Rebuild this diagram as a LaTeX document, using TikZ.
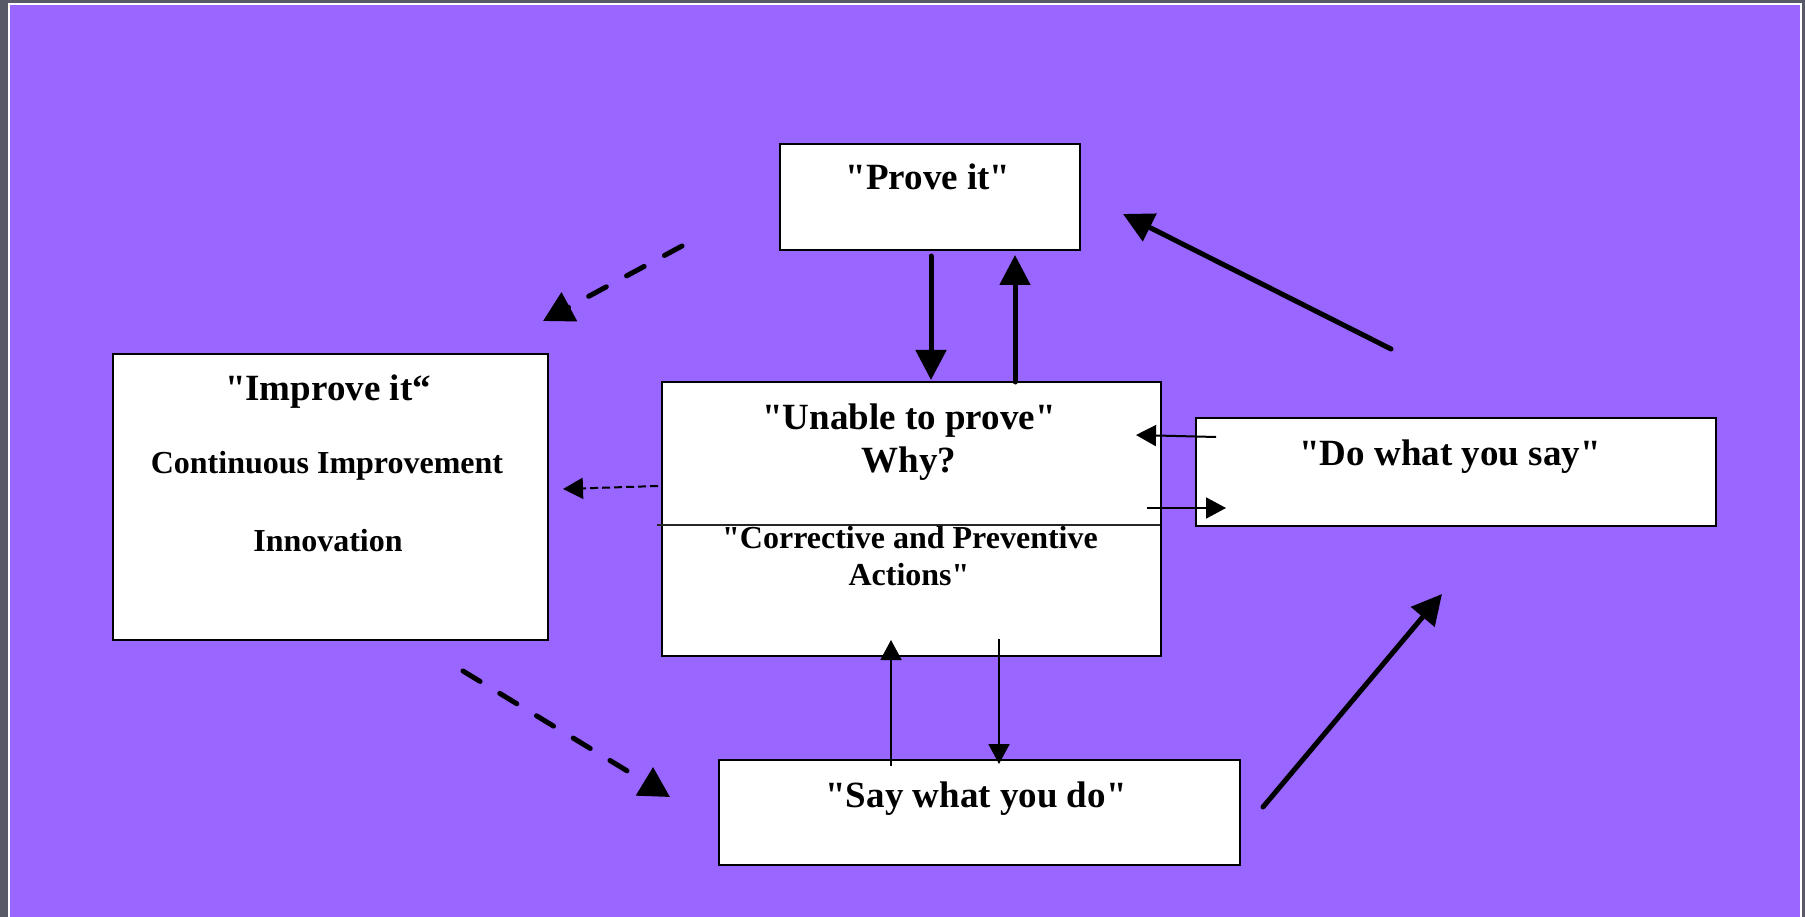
\documentclass[tikz,border=0pt]{standalone}
\usepackage{fontspec}
\setmainfont{Liberation Serif}[Ligatures=TeXOff]
\usetikzlibrary{arrows.meta}
\definecolor{bgpurple}{HTML}{9966FF}
\definecolor{framegray}{HTML}{585B67}
\begin{document}
\begin{tikzpicture}[x=1pt,y=-1pt,
  box/.style={draw=black, line width=1.8pt, fill=white, inner sep=0pt, anchor=north west},
  title/.style={font=\fontsize{37}{44}\selectfont\bfseries, anchor=base, inner sep=0pt},
  sub/.style={font=\fontsize{32}{38}\selectfont\bfseries, anchor=base, inner sep=0pt},
  thickarrow/.style={line width=5pt, line cap=round, -{Triangle[length=30pt,width=30pt]}},
  thickdash/.style={line width=5pt, line cap=round, dash pattern=on 20pt off 23pt, -{Triangle[length=30pt,width=32pt]}},
  thinarrow/.style={line width=2pt, -{Triangle[length=20pt,width=21pt]}},
  thindash/.style={line width=2pt, dash pattern=on 8pt off 4pt, -{Triangle[length=20pt,width=21pt]}}]
% background and frame
\fill[framegray] (0,0) rectangle (1805,917);
\fill[white] (7.5,3.5) rectangle (1802,917);
\fill[bgpurple] (9.5,5.5) rectangle (1800,917);
\useasboundingbox (0,0) rectangle (1805,917);

% boxes
\node[box, minimum width=300pt, minimum height=106pt] (prove) at (779,143) {};
\node[box, minimum width=435pt, minimum height=286pt] (improve) at (112,353) {};
\node[box, minimum width=499pt, minimum height=274pt] (unable) at (661,381) {};
\node[box, minimum width=520pt, minimum height=108pt] (dowhat) at (1195,417) {};
\node[box, minimum width=521pt, minimum height=105pt] (saywhat) at (718,759) {};

% divider in the middle box
\coordinate (divL) at (657,525);
\coordinate (divR) at (1160,525);
\draw[line width=1.5pt, black!85] (divL) -- (divR);

% texts
\node[title] (tProve) at (928,190) {"Prove it"};
\node[title] (tImprove) at (328,400) {"Improve it“};
\node[sub] (tCont) at (327,473) {Continuous Improvement};
\node[sub] (tInnov) at (328,551) {Innovation};
\node[title] (tUnable) at (909,429) {"Unable to prove"};
\node[title] (tWhy) at (909,472) {Why?};
\node[sub] (tCorr) at (910,548) {"Corrective and Preventive};
\node[sub] (tAct) at (909,585) {Actions"};
\node[title] (tDo) at (1450,465) {"Do what you say"};
\node[title] (tSay) at (976,807) {"Say what you do"};

% connector end points
\coordinate (a1s) at (682,246);  \coordinate (a1e) at (543,321);
\coordinate (a2s) at (931,256);  \coordinate (a2e) at (931,380);
\coordinate (a3s) at (1015,382); \coordinate (a3e) at (1015,255);
\coordinate (a4s) at (1391,349); \coordinate (a4e) at (1123,214);
\coordinate (a5s) at (1216,437); \coordinate (a5e) at (1136,435);
\coordinate (a6s) at (1147,508); \coordinate (a6e) at (1226,508);
\coordinate (a7s) at (658,486);  \coordinate (a7e) at (563,489);
\coordinate (a8s) at (891,766);  \coordinate (a8e) at (891,640);
\coordinate (a9s) at (999,639);  \coordinate (a9e) at (999,764);
\coordinate (a10s) at (463,671); \coordinate (a10e) at (670,797);
\coordinate (a11s) at (1263,807); \coordinate (a11e) at (1442,594);

% connectors
\draw[thickdash] (a1s) -- (a1e);
\draw[thickarrow] (a2s) -- (a2e);
\draw[thickarrow] (a3s) -- (a3e);
\draw[thickarrow] (a4s) -- (a4e);
\draw[thinarrow] (a5s) -- (a5e);
\draw[thinarrow] (a6s) -- (a6e);
\draw[thindash] (a7s) -- (a7e);
\draw[thinarrow] (a8s) -- (a8e);
\draw[thinarrow] (a9s) -- (a9e);
\draw[thickdash] (a10s) -- (a10e);
\draw[thickarrow] (a11s) -- (a11e);
\end{tikzpicture}
\end{document}
